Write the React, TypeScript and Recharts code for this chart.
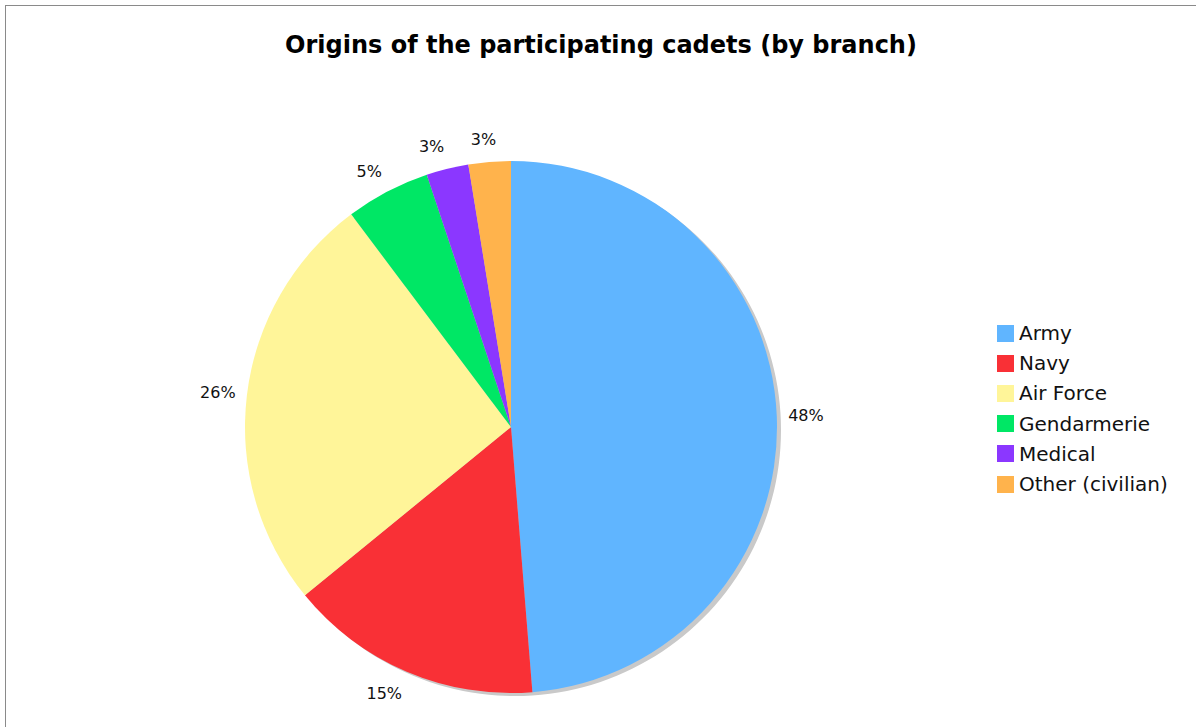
import React from "react";
import { PieChart, Pie, Cell, Legend } from "recharts";

// cadets per branch (shares)
const branches = ["Army", "Navy", "Air Force", "Gendarmerie", "Medical", "Other (civilian)"];
const cadets = [19, 6, 10, 2, 1, 1];
const shareLabels = ["48%", "15%", "26%", "5%", "3%", "3%"];
const colors = ["#60B5FF", "#F93036", "#FFF599", "#00E765", "#8B37FF", "#FFB34C"];

const data = branches.map((name, i) => ({ name, value: cadets[i] }));
const shadowData = [{ name: "shadow", value: 1 }];

const FONT = "'DejaVu Sans', Verdana, sans-serif";
const RAD = Math.PI / 180;
const LABEL_SIZE = 16;

// label sits just outside the rim, pushed sideways away from the pie
function renderLabel(props: any) {
  const { cx, cy, midAngle, outerRadius, index } = props;
  const text = shareLabels[index];
  const ux = Math.cos(-midAngle * RAD);
  const uy = Math.sin(-midAngle * RAD);
  const r = outerRadius + 11;
  const px = cx + r * ux;
  const py = cy + r * uy;
  const w = (text.length - 1) * 0.636 * LABEL_SIZE + LABEL_SIZE;
  const side = Math.sign(ux) * Math.min(1, Math.abs(ux) * 5);
  const x = px + (side * w) / 2;
  const y = py + uy * 12 + 0.36 * LABEL_SIZE;
  return (
    <text
      x={x}
      y={y}
      textAnchor="middle"
      fontFamily={FONT}
      fontSize={LABEL_SIZE}
      fill="#111"
    >
      {text}
    </text>
  );
}

// legend keeps the data order (recharts would sort it by name)
function renderLegend() {
  return (
    <div style={{ fontFamily: FONT, fontSize: 20, color: "#111" }}>
      {branches.map((name, i) => (
        <div key={name} style={{ display: "flex", alignItems: "center", height: 30.2 }}>
          <span
            style={{
              display: "inline-block",
              width: 17,
              height: 17,
              background: colors[i],
              marginRight: 5,
            }}
          />
          <span>{name}</span>
        </div>
      ))}
    </div>
  );
}

export default function App() {
  return (
    <div
      style={{
        position: "absolute",
        left: 0,
        top: 0,
        width: 1196,
        height: 727,
        overflow: "hidden",
        background: "#fff",
      }}
    >
      <div
        style={{
          position: "absolute",
          left: 5,
          top: 5,
          width: 1300,
          height: 900,
          borderLeft: "1px solid #8a8a8a",
          borderTop: "1px solid #8a8a8a",
        }}
      />
      <svg
        width={1196}
        height={80}
        style={{ position: "absolute", left: 0, top: 0 }}
      >
        <text
          x={601}
          y={53}
          textAnchor="middle"
          fontFamily={FONT}
          fontWeight="bold"
          fontSize={24}
          fill="#000"
        >
          Origins of the participating cadets (by branch)
        </text>
      </svg>
      <div style={{ position: "absolute", left: 0, top: 0 }}>
        <PieChart
          width={1196}
          height={727}
          margin={{ top: 0, right: 0, bottom: 0, left: 0 }}
        >
          <Pie
            data={shadowData}
            dataKey="value"
            cx={515}
            cy={430}
            outerRadius={266}
            fill="#c9c9c9"
            stroke="none"
            legendType="none"
            isAnimationActive={false}
          />
          <Pie
            data={data}
            dataKey="value"
            nameKey="name"
            cx={511}
            cy={427}
            outerRadius={266}
            startAngle={90}
            endAngle={-270}
            stroke="none"
            label={renderLabel}
            labelLine={false}
            isAnimationActive={false}
          >
            {data.map((d, i) => (
              <Cell key={d.name} fill={colors[i]} />
            ))}
          </Pie>
          <Legend
            layout="vertical"
            content={renderLegend}
            wrapperStyle={{ position: "absolute", left: 997, top: 318, width: 200 }}
          />
        </PieChart>
      </div>
    </div>
  );
}
